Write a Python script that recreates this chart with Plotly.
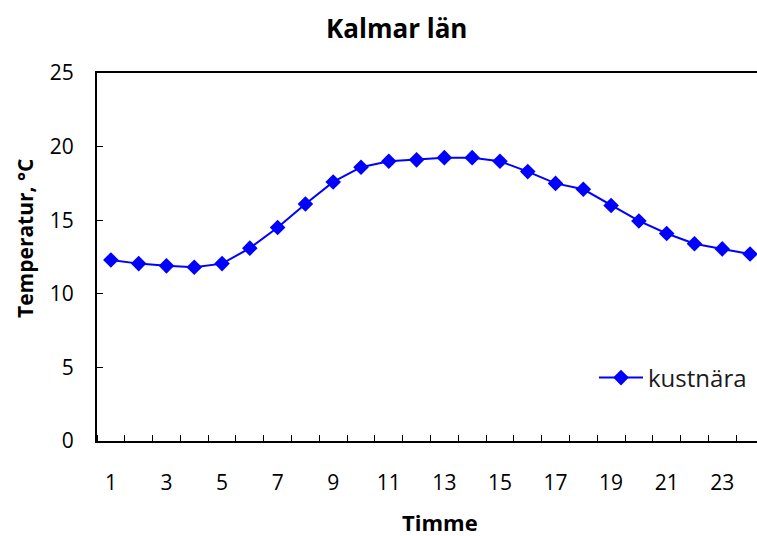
import plotly.graph_objects as go

# Hourly temperatures, coastal station
hours = list(range(1, 25))
kustnara = [12.3, 12.05, 11.9, 11.8, 12.05, 13.1, 14.5, 16.1, 17.6, 18.6,
            19.0, 19.1, 19.25, 19.25, 19.0, 18.3, 17.5, 17.1, 16.0, 14.95,
            14.1, 13.4, 13.05, 12.7]
x_tick_labels = [str(h) for h in range(1, 24, 2)]
y_ticks = [0, 5, 10, 15, 20, 25]

FONT = "Open Sans"

# Plot area in pixels
L, R, T, B = 97, 757, 73, 441
W, H = 757, 536


def px(xp):
    return (xp - L) / (R - L)


def py(yp):
    return (B - yp) / (B - T)


fig = go.Figure()
fig.add_trace(go.Scatter(
    x=hours, y=kustnara, name="kustnära", mode="lines+markers",
    line=dict(color="#0000FF", width=2),
    marker=dict(symbol="diamond", size=12, color="#0000FF"),
))

fig.update_layout(
    width=W, height=H,
    margin=dict(l=L, r=W - R, t=T, b=H - B),
    paper_bgcolor="white", plot_bgcolor="white",
    font=dict(family=FONT, color="black"),
    showlegend=True,
    legend=dict(x=px(594), y=py(378), xanchor="left", yanchor="middle",
                font=dict(size=24, family=FONT, color="#1a1a1a"),
                bgcolor="rgba(0,0,0,0)", itemwidth=44),
)

fig.add_annotation(text="<b>Kalmar län</b>", x=px(396), y=py(28), xref="paper", yref="paper",
                   showarrow=False, font=dict(size=26, family=FONT), yanchor="middle")
fig.add_annotation(text="<b>Timme</b>", x=px(440), y=py(522), xref="paper", yref="paper",
                   showarrow=False, font=dict(size=22, family=FONT), yanchor="middle",
                   height=24, borderpad=0)
fig.add_annotation(text="<b>Temperatur, °C</b>", x=px(25), y=py(239), xref="paper", yref="paper",
                   showarrow=False, textangle=-90, font=dict(size=21, family=FONT),
                   xanchor="center", yanchor="middle")

fig.update_xaxes(
    range=[0.5, 24.25],
    showline=True, linecolor="black", linewidth=2, mirror=True,
    showgrid=False, zeroline=False,
    tickmode="array", tickvals=list(range(1, 24, 2)), ticktext=x_tick_labels,
    ticks="", ticklabelstandoff=22,
    tickfont=dict(size=21, family=FONT),
    minor=dict(ticks="inside", tick0=0.5, dtick=1, ticklen=6, tickcolor="black",
               tickwidth=1, showgrid=False),
)
fig.update_yaxes(
    range=[0, 25],
    showline=True, linecolor="black", linewidth=2,
    showgrid=False, zeroline=False,
    tickmode="array", tickvals=y_ticks,
    ticks="inside", ticklen=6, tickcolor="black", tickwidth=1,
    ticklabelstandoff=17,
    tickfont=dict(size=21, family=FONT),
)

fig.write_html("out.html")
